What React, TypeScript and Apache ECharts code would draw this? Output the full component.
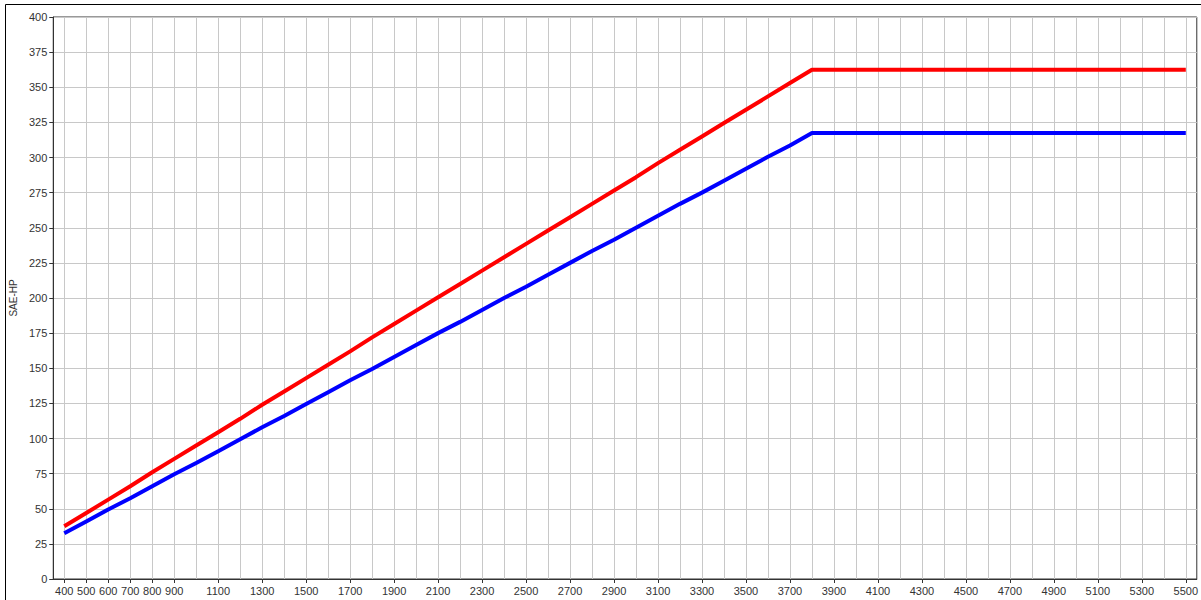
import React, { useEffect, useRef } from "react";
import * as echarts from "echarts";

const rpm: string[] = [
  "400", "500", "600", "700", "800", "900", "1000", "1100", "1200", "1300",
  "1400", "1500", "1600", "1700", "1800", "1900", "2000", "2100", "2200", "2300",
  "2400", "2500", "2600", "2700", "2800", "2900", "3000", "3100", "3200", "3300",
  "3400", "3500", "3600", "3700", "3800", "3900", "4000", "4100", "4200", "4300",
  "4400", "4500", "4600", "4700", "4800", "4900", "5000", "5100", "5200", "5300",
  "5400", "5500",
];

const redHp: number[] = [
  37.5, 47, 56.5, 66, 76, 85.5, 95, 104.5, 114, 124,
  133.5, 143, 152.5, 162, 172, 181.5, 191, 200.5, 210, 219.5,
  229, 238.5, 248, 257.5, 267, 276.5, 286, 296, 305.5, 315,
  324.5, 334, 343.5, 353, 362.5, 362.5, 362.5, 362.5, 362.5, 362.5,
  362.5, 362.5, 362.5, 362.5, 362.5, 362.5, 362.5, 362.5, 362.5, 362.5,
  362.5, 362.5,
];

const blueHp: number[] = [
  32.5, 41, 49.5, 57.5, 66, 74.5, 82.5, 91, 99.5, 108,
  116, 124.5, 133, 141.5, 149.5, 158, 166.5, 175, 183, 191.5,
  200, 208, 216.5, 225, 233.5, 241.5, 250, 258.5, 267, 275,
  283.5, 292, 300.5, 308.5, 317.5, 317.5, 317.5, 317.5, 317.5, 317.5,
  317.5, 317.5, 317.5, 317.5, 317.5, 317.5, 317.5, 317.5, 317.5, 317.5,
  317.5, 317.5,
];

const yAxisName = "SAE-HP";

const showLabel = (i: number) => i <= 5 || i % 2 === 1;

export default function App() {
  const ref = useRef<HTMLDivElement>(null);
  useEffect(() => {
    if (!ref.current) return;
    const chart = echarts.init(ref.current, undefined, { renderer: "svg" });
    const font = "Liberation Sans, Arial, sans-serif";
    chart.setOption({
      animation: false,
      backgroundColor: "#ffffff",
      grid: {
        left: 51,
        top: 17,
        right: 3,
        bottom: 21,
        show: true,
        borderColor: "#333333",
        borderWidth: 1,
        containLabel: false,
      },
      graphic: [
        {
          type: "rect",
          shape: { x: 5.5, y: 4.5, width: 1400, height: 800 },
          style: { fill: "none", stroke: "#000000", lineWidth: 1 },
          silent: true,
          z: 100,
        },
      ],
      xAxis: {
        type: "category",
        data: rpm,
        boundaryGap: true,
        axisLine: { show: true, lineStyle: { color: "#333333", width: 1 } },
        axisTick: {
          show: true,
          alignWithLabel: true,
          interval: (i: number) => showLabel(i),
          length: 4,
          lineStyle: { color: "#333333" },
        },
        axisLabel: {
          interval: (i: number) => showLabel(i),
          color: "#333333",
          fontSize: 11,
          fontFamily: font,
          margin: 6,
        },
        splitLine: {
          show: true,
          interval: 0,
          alignWithLabel: true,
          lineStyle: { color: "#c8c8c8", width: 1 },
        },
      },
      yAxis: {
        type: "value",
        min: 0,
        max: 400,
        interval: 25,
        name: yAxisName,
        nameLocation: "middle",
        nameGap: 26,
        nameTextStyle: { color: "#333333", fontSize: 10, fontFamily: font },
        axisLine: { show: true, lineStyle: { color: "#333333", width: 1 } },
        axisTick: { show: true, length: 4, lineStyle: { color: "#333333" } },
        axisLabel: {
          color: "#333333",
          fontSize: 11,
          fontFamily: font,
          margin: 6,
        },
        splitLine: { show: true, lineStyle: { color: "#c8c8c8", width: 1 } },
      },
      series: [
        {
          type: "line",
          data: redHp,
          symbol: "none",
          lineStyle: { color: "#ff0000", width: 4 },
          itemStyle: { color: "#ff0000" },
        },
        {
          type: "line",
          data: blueHp,
          symbol: "none",
          lineStyle: { color: "#0000ff", width: 4 },
          itemStyle: { color: "#0000ff" },
        },
      ],
    });
    return () => chart.dispose();
  }, []);
  return (
    <div
      ref={ref}
      style={{ position: "absolute", left: 0, top: 0, width: 1201, height: 600 }}
    />
  );
}
